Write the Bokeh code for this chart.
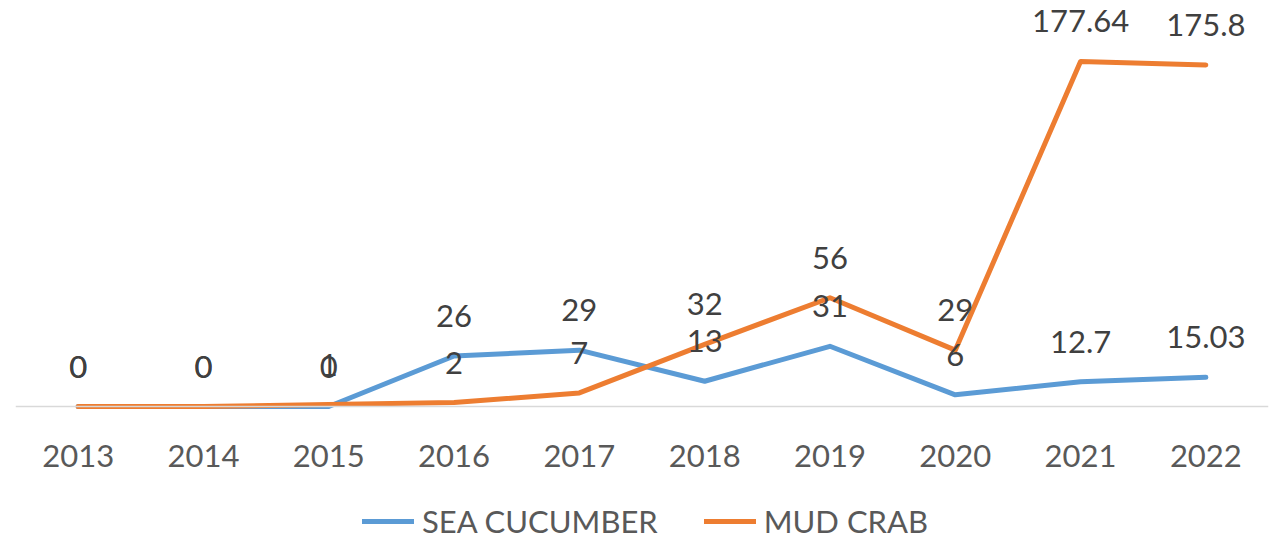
from bokeh.plotting import figure
from bokeh.models import ColumnDataSource, FactorRange, Range1d, Legend, LegendItem
from bokeh.core.properties import value
from bokeh.embed import file_html
from bokeh.resources import INLINE

years = ["2013", "2014", "2015", "2016", "2017", "2018", "2019", "2020", "2021", "2022"]
sea_cucumber = [0, 0, 0, 26, 29, 13, 31, 6, 12.7, 15.03]
mud_crab = [0, 0, 1, 2, 7, 32, 56, 29, 177.64, 175.8]
sea_labels = ["0", "0", "0", "26", "29", "13", "31", "6", "12.7", "15.03"]
crab_labels = ["0", "0", "1", "2", "7", "32", "56", "29", "177.64", "175.8"]

FONT = "Lato"
BLUE = "#5B9BD5"
ORANGE = "#ED7D31"

Y_TOP = 208
Y_BOTTOM = -134 * Y_TOP / 404  # room below the baseline for tick labels and legend

src_s = ColumnDataSource(dict(x=years, y=sea_cucumber, t=sea_labels))
src_c = ColumnDataSource(dict(x=years, y=mud_crab, t=crab_labels))

p = figure(frame_width=1253, frame_height=538, output_backend="svg", toolbar_location=None,
           x_range=FactorRange(factors=years, range_padding=0),
           y_range=Range1d(Y_BOTTOM, Y_TOP))
p.min_border_left = 15
p.min_border_right = 5
p.min_border_top = 2
p.min_border_bottom = 0
p.outline_line_color = None
p.background_fill_color = "white"
p.border_fill_color = "white"
p.xgrid.visible = False
p.ygrid.visible = False
p.yaxis.visible = False

ax = p.xaxis[0]
ax.fixed_location = 0
ax.axis_line_color = "#D9D9D9"
ax.axis_line_width = 1.5
ax.major_tick_line_color = None
ax.minor_tick_line_color = None
ax.major_tick_out = 0
ax.major_tick_in = 0
ax.major_label_standoff = 38
ax.major_label_text_font = FONT
ax.major_label_text_font_size = "31px"
ax.major_label_text_color = "#595959"

r_s = p.line("x", "y", source=src_s, line_color=BLUE, line_width=5,
             line_join="round", line_cap="round")
r_c = p.line("x", "y", source=src_c, line_color=ORANGE, line_width=5,
             line_join="round", line_cap="round")

for src in (src_s, src_c):
    p.text("x", "y", text="t", source=src, text_font=value(FONT),
           text_font_size="31px", text_color="#404040", text_align="center",
           text_baseline="middle", y_offset=-40)

legend = Legend(items=[LegendItem(label="SEA CUCUMBER", renderers=[r_s]),
                       LegendItem(label="MUD CRAB", renderers=[r_c])],
                orientation="horizontal", location=(347, 0))
legend.label_text_font = FONT
legend.label_text_font_size = "31px"
legend.label_text_color = "#595959"
legend.glyph_width = 52
legend.glyph_height = 20
legend.label_standoff = 8
legend.spacing = 46
legend.padding = 0
legend.margin = 0
legend.border_line_color = None
legend.background_fill_alpha = 0
p.add_layout(legend)

open("out.html", "w").write(file_html(p, INLINE))
